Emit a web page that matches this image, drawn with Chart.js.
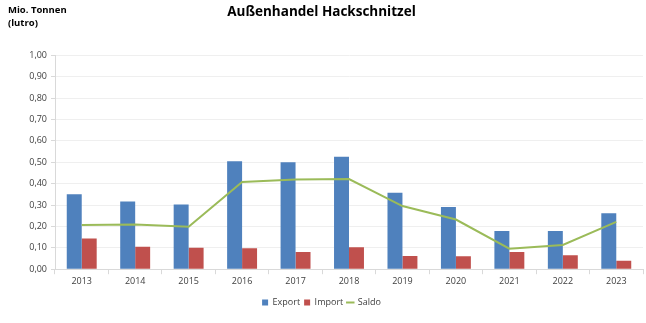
<!DOCTYPE html>
<html><head><meta charset="utf-8">
<script src="https://cdn.jsdelivr.net/npm/chart.js@4"></script>
<style>
html,body{margin:0;padding:0;background:#fff;}
#wrap{position:relative;width:646px;height:323px;}
#ytitle{position:absolute;left:8px;top:3px;font:bold 9.5px "Open Sans",sans-serif;line-height:13px;color:#000;}
</style></head>
<body><div id="wrap"><canvas id="c" width="646" height="323"></canvas><div id="ytitle">Mio. Tonnen<br>(lutro)</div></div>
<script>
const categories = ["2013","2014","2015","2016","2017","2018","2019","2020","2021","2022","2023"];
const exportValues = [0.350,0.316,0.302,0.504,0.500,0.525,0.357,0.291,0.178,0.178,0.261];
const importValues = [0.144,0.105,0.100,0.098,0.080,0.102,0.062,0.060,0.080,0.065,0.039];
const saldoValues  = [0.206,0.209,0.198,0.407,0.419,0.421,0.295,0.232,0.096,0.113,0.221];
const seriesNames = ["Export","Import","Saldo"];
const titleText = "Außenhandel Hackschnitzel";

const FONT = '"Open Sans", sans-serif';
new Chart(document.getElementById('c'), {
  data: {
    labels: categories,
    datasets: [
      {type:'line', label: seriesNames[2], data: saldoValues, borderColor:'#9bbb59', backgroundColor:'#9bbb59', borderWidth:2, pointRadius:0, tension:0, order:0},
      {type:'bar', label: seriesNames[0], data: exportValues, backgroundColor:'#4f81bd', categoryPercentage:0.56, barPercentage:1.0, order:1},
      {type:'bar', label: seriesNames[1], data: importValues, backgroundColor:'#c0504d', categoryPercentage:0.56, barPercentage:1.0, order:1}
    ]
  },
  options: {
    responsive:false, animation:false,
    layout:{padding:{top:0,right:3,left:0,bottom:6}},
    plugins:{
      title:{display:true,text:titleText,font:{family:FONT,size:13.5,weight:'bold'},color:'#000',padding:{top:4,bottom:35}},
      legend:{position:'bottom',
        labels:{font:{family:FONT,size:9},color:'#404040',boxWidth:6,boxHeight:6,padding:4,usePointStyle:true,
          sort:(a,b)=>{const o={"Export":0,"Import":1,"Saldo":2};return o[a.text]-o[b.text];},
          generateLabels:(chart)=>{
            const base = Chart.defaults.plugins.legend.labels.generateLabels(chart);
            base.forEach(l=>{ const ds=chart.data.datasets[l.datasetIndex]; l.pointStyle = ds.type==='line'?'line':'rect'; l.lineWidth = ds.type==='line'?2:0; l.strokeStyle=ds.borderColor||ds.backgroundColor;});
            return base;
          }}},
      tooltip:{enabled:false}
    },
    scales:{
      x:{offset:true,
        afterFit:(s)=>{s.height+=5;},
        grid:{offset:true,drawOnChartArea:false,drawTicks:true,tickLength:5,color:'#d9d9d9'},
        border:{color:'#d9d9d9'},
        ticks:{font:{family:FONT,size:9},color:'#404040',padding:2,maxRotation:0}},
      y:{min:0,max:1.0,
        afterFit:(s)=>{s.width=55;},
        ticks:{stepSize:0.1,font:{family:FONT,size:9},color:'#404040',padding:4,
          callback:(v)=>v.toFixed(2).replace('.',',')},
        grid:{color:'#efefef',drawTicks:true,tickLength:4,tickColor:'#d9d9d9'},
        border:{color:'#d9d9d9'}}
    }
  }
});
</script></body></html>
